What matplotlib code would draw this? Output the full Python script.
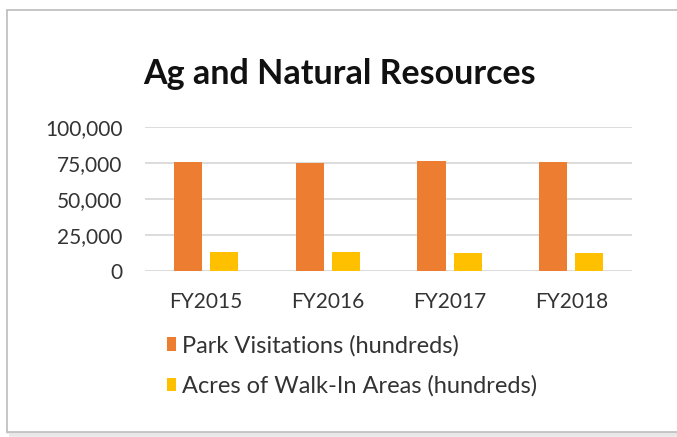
import matplotlib.pyplot as plt
from matplotlib.patches import Rectangle
import numpy as np

plt.rcParams['font.family'] = ['Lato', 'DejaVu Sans']

# data
years = ['FY2015', 'FY2016', 'FY2017', 'FY2018']
park_visits = [75500, 75100, 76700, 75500]
walk_in_acres = [13700, 13700, 13000, 13000]
yticks = [0, 25000, 50000, 75000, 100000]

fig = plt.figure(figsize=(6.77, 4.37), dpi=100)

# chart frame with a soft shadow
fig.patches.append(Rectangle((0.013, 0.006), 1.0, 0.966, transform=fig.transFigure,
                             facecolor='none', edgecolor='#e8e8e8', lw=4, zorder=0))
fig.patches.append(Rectangle((0.0103, 0.0114), 1.0, 0.966, transform=fig.transFigure,
                             facecolor='white', edgecolor='#bdbdbd', lw=1.2, zorder=1))

ax = fig.add_axes([0.214, 0.379, 0.72, 0.33])
ax.set_zorder(3)
ax.patch.set_alpha(0)
x = np.arange(len(years))
w = 0.23
ax.bar(x - 0.148, park_visits, w, color='#ED7D31', label='Park Visitations (hundreds)', zorder=3)
ax.bar(x + 0.148, walk_in_acres, w, color='#FFC000', label='Acres of Walk-In Areas (hundreds)', zorder=3)

ax.set_xlim(-0.5, 3.5)
ax.set_ylim(0, 100000)
ax.set_yticks(yticks)
ax.set_yticklabels([f'{v:,}' for v in yticks])
ax.set_xticks(x)
ax.set_xticklabels(years)
ax.tick_params(length=0, labelsize=15, colors='#333333', pad=15)
ax.tick_params(axis='y', pad=16)
ax.grid(axis='y', color='#d9d9d9', lw=1.3, zorder=0)
for s in ax.spines.values():
    s.set_visible(False)

fig.text(0.502, 0.831, 'Ag and Natural Resources', ha='center', va='center',
         fontsize=24.5, fontweight='bold', color='#111111', zorder=4)

leg = fig.legend(loc='upper left', bbox_to_anchor=(0.232, 0.255), ncol=1, frameon=False,
                 fontsize=17, labelcolor='#333333', handlelength=0.42, handleheight=0.5,
                 handletextpad=0.25, labelspacing=0.8, borderaxespad=0)
leg.set_zorder(4)

fig.savefig('out.png', dpi=100)
